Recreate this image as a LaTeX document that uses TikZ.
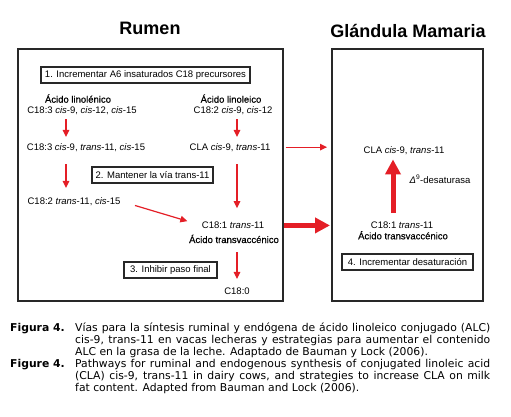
\documentclass[tikz,border=0pt]{standalone}
\usepackage{fontspec}
\setmainfont{Liberation Sans}
\newfontfamily\capfont{DejaVu Sans}
\newfontfamily\heavyfont[FakeBold=0.6]{Liberation Sans}
\usetikzlibrary{arrows.meta}
\definecolor{ptred}{RGB}{228,30,38}
\definecolor{ptframe}{RGB}{40,40,40}
\tikzstyle{title} = [anchor=base, inner sep=0pt, font=\bfseries\fontsize{18}{20}\selectfont]
\tikzstyle{frame} = [draw=ptframe, line width=2pt]
\tikzstyle{strategy} = [draw=ptframe, line width=1.2pt, inner sep=1pt, minimum height=16pt, font=\fontsize{9.5}{11}\selectfont]
\tikzstyle{acid} = [anchor=base, inner sep=0pt, font=\fontsize{9.5}{11}\selectfont]
\tikzstyle{acidname} = [acid, font=\heavyfont\fontsize{9.5}{11}\selectfont]
\tikzstyle{arrow} = [-{Triangle[length=7pt,width=6.5pt]}, line width=1.2pt, color=ptred]
\tikzstyle{bigarrow} = [-{Triangle[length=15pt,width=15pt]}, line width=5pt, color=ptred]
\tikzstyle{caption} = [anchor=base west, inner sep=0pt, font=\capfont\fontsize{10.8}{12}\selectfont]
\tikzstyle{figlabel} = [caption, font=\capfont\bfseries\fontsize{10.8}{12}\selectfont]
\newcommand{\justline}[1]{\makebox[415pt][s]{#1}}

\begin{document}
\begin{tikzpicture}[x=1pt, y=-1pt]
\useasboundingbox (0,0) rectangle (511,417);
% Titles
\node (rtitle) [title] at (150,35) {Rumen};
\node (gtitle) [title] at (408,37.5) {Glándula Mamaria};

% Frames
\node (rframe) [frame, minimum width=265pt, minimum height=252pt] at (150.5,175) {};
\node (gframe) [frame, minimum width=151pt, minimum height=252pt] at (407.5,175) {};

% Strategies
\node (s1) [strategy, minimum width=209pt] at (145.5,75) {1. Incrementar A6 insaturados C18 precursores};
\node (s2) [strategy, minimum width=121pt] at (152.5,175) {2. Mantener la vía trans-11};
\node (s3) [strategy, minimum width=93pt] at (170.5,270) {3. Inhibir paso final};
\node (s4) [strategy, minimum width=131pt] at (407.5,262) {4. Incrementar desaturación};

% Rumen, linolenic pathway
\node (a0) [acidname] at (78,102.7) {Ácido linolénico};
\node (a1) [acid] at (82,113.3) {C18:3 \textit{cis}-9, \textit{cis}-12, \textit{cis}-15};
\node (a2) [acid] at (86,150) {C18:3 \textit{cis}-9, \textit{trans}-11, \textit{cis}-15};
\node (a3) [acid] at (74,204) {C18:2 \textit{trans}-11, \textit{cis}-15};

% Rumen, linoleic pathway
\node (b0) [acidname] at (231,102.7) {Ácido linoleico};
\node (b1) [acid] at (233,113.3) {C18:2 \textit{cis}-9, \textit{cis}-12};
\node (b2) [acid] at (230,150) {CLA \textit{cis}-9, \textit{trans}-11};
\node (b3) [acid] at (233,228.7) {C18:1 \textit{trans}-11};
\node (b4) [acidname] at (234,243) {Ácido transvaccénico};
\node (c180) [acid] at (237,294) {C18:0};

% Mammary gland
\node (g1) [acid] at (404,153.3) {CLA \textit{cis}-9, \textit{trans}-11};
\node (g2) [acid] at (402,228.7) {C18:1 \textit{trans}-11};
\node (g3) [acidname] at (403,239.3) {Ácido transvaccénico};
\node (desat) [acid] at (440,183.3) {\textit{Δ}\textsuperscript{9}-desaturasa};

% Arrows
\coordinate (lcol) at (66,0);
\coordinate (rcol) at (237,0);
\coordinate (gcol) at (393,0);
\draw[arrow, shorten <=4.7pt, shorten >=6pt] (a1.south -| lcol) -- (a2.north -| lcol);
\draw[arrow, shorten <=13pt, shorten >=9pt] (a2.south -| lcol) -- (a3.north -| lcol);
\draw[arrow, shorten <=15pt, shorten >=15pt] (a3.east) -- (b3.west);
\draw[arrow, shorten <=4.7pt, shorten >=6pt] (b1.south -| rcol) -- (b2.north -| rcol);
\draw[arrow, shorten <=13pt, shorten >=13.7pt] (b2.south -| rcol) -- (b3.north -| rcol);
\draw[arrow, shorten <=9pt, shorten >=8.2pt] (b4.south -| rcol) -- (c180.north -| rcol);
\draw[arrow, shorten <=15pt, shorten >=4pt] (b2.east) -- (b2.east -| gframe.west);
\draw[bigarrow, shorten >=1pt] (b3 -| rframe.east) -- (b3 -| gframe.west);
\draw[bigarrow, shorten <=8.7pt, shorten >=4.7pt] (g2.north -| gcol) -- (g1.south -| gcol);

% Caption
\node (fig1) [figlabel] at (10,331) {Figura 4.};
\node (capes1) [caption] at (75,331) {\justline{Vías para la síntesis ruminal y endógena de ácido linoleico conjugado (ALC)}};
\node (capes2) [caption] at (75,343) {\justline{cis-9, trans-11 en vacas lecheras y estrategias para aumentar el contenido}};
\node (capes3) [caption] at (75,355) {ALC en la grasa de la leche. Adaptado de Bauman y Lock (2006).};
\node (fig2) [figlabel] at (10,367) {Figure 4.};
\node (capen1) [caption] at (75,367) {\justline{Pathways for ruminal and endogenous synthesis of conjugated linoleic acid}};
\node (capen2) [caption] at (75,379) {\justline{(CLA) cis-9, trans-11 in dairy cows, and strategies to increase CLA on milk}};
\node (capen3) [caption] at (75,391) {fat content. Adapted from Bauman and Lock (2006).};
\end{tikzpicture}
\end{document}
